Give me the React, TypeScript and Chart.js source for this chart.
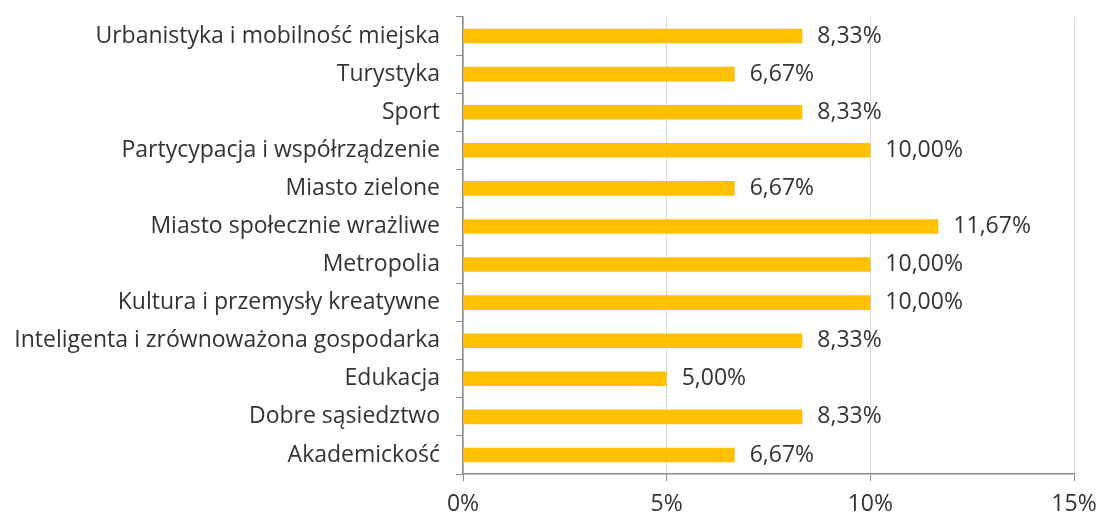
import React, { useEffect, useRef } from "react";
import { Chart, registerables } from "chart.js";

Chart.register(...registerables);

const categories = [
  "Urbanistyka i mobilność miejska",
  "Turystyka",
  "Sport",
  "Partycypacja i współrządzenie",
  "Miasto zielone",
  "Miasto społecznie wrażliwe",
  "Metropolia",
  "Kultura i przemysły kreatywne",
  "Inteligenta i zrównoważona gospodarka",
  "Edukacja",
  "Dobre sąsiedztwo",
  "Akademickość",
];
const values = [8.33, 6.67, 8.33, 10.0, 6.67, 11.67, 10.0, 10.0, 8.33, 5.0, 8.33, 6.67];
const xTicks = [0, 5, 10, 15];

const FONT = "'Open Sans', sans-serif";
const TEXT = "#333333";
const SIZE = 23;

const valueLabels = {
  id: "valueLabels",
  afterDatasetsDraw(chart: any) {
    const ctx = chart.ctx;
    const meta = chart.getDatasetMeta(0);
    ctx.save();
    ctx.font = `${SIZE}px ${FONT}`;
    ctx.fillStyle = TEXT;
    ctx.textAlign = "left";
    ctx.textBaseline = "middle";
    meta.data.forEach((bar: any, i: number) => {
      const v = values[i];
      ctx.fillText(v.toFixed(2).replace(".", ",") + "%", bar.x + 15, bar.y);
    });
    ctx.restore();
  },
};

export default function App() {
  const ref = useRef<HTMLCanvasElement>(null);
  useEffect(() => {
    document.body.style.margin = "0";
    const chart = new Chart(ref.current!, {
      type: "bar",
      data: {
        labels: categories,
        datasets: [
          {
            data: values,
            backgroundColor: "#FFC000",
            barPercentage: 0.77,
            categoryPercentage: 0.5,
          },
        ],
      },
      options: {
        indexAxis: "y",
        animation: false,
        responsive: false,
        maintainAspectRatio: false,
        layout: { padding: { top: 17, right: 24, left: 0, bottom: 0 } },
        plugins: { legend: { display: false }, tooltip: { enabled: false } },
        scales: {
          x: {
            min: 0,
            max: 15,
            afterBuildTicks(scale: any) {
              scale.ticks = xTicks.map((v) => ({ value: v }));
            },
            afterFit(scale: any) {
              scale.height = 39;
              scale.paddingLeft = 0;
              scale.paddingRight = 0;
            },
            border: { color: "#8c8c8c", width: 1.5 },
            grid: { color: "#d9d9d9", tickColor: "#8c8c8c", tickLength: 7, lineWidth: 1 },
            ticks: {
              color: TEXT,
              font: { family: FONT, size: SIZE },
              padding: 10,
              maxRotation: 0,
              callback: (v: any) => v + "%",
            },
          },
          y: {
            afterFit(scale: any) {
              scale.width = 463;
              scale.paddingTop = 0;
              scale.paddingBottom = 0;
            },
            border: { color: "#8c8c8c", width: 1.5 },
            grid: { drawOnChartArea: false, tickLength: 7, color: "#8c8c8c", offset: true },
            ticks: {
              color: TEXT,
              font: { family: FONT, size: SIZE },
              padding: 16,
              autoSkip: false,
            },
          },
        },
      },
      plugins: [valueLabels],
    });
    return () => chart.destroy();
  }, []);
  return <canvas ref={ref} width={1098} height={513} style={{ display: "block" }} />;
}
